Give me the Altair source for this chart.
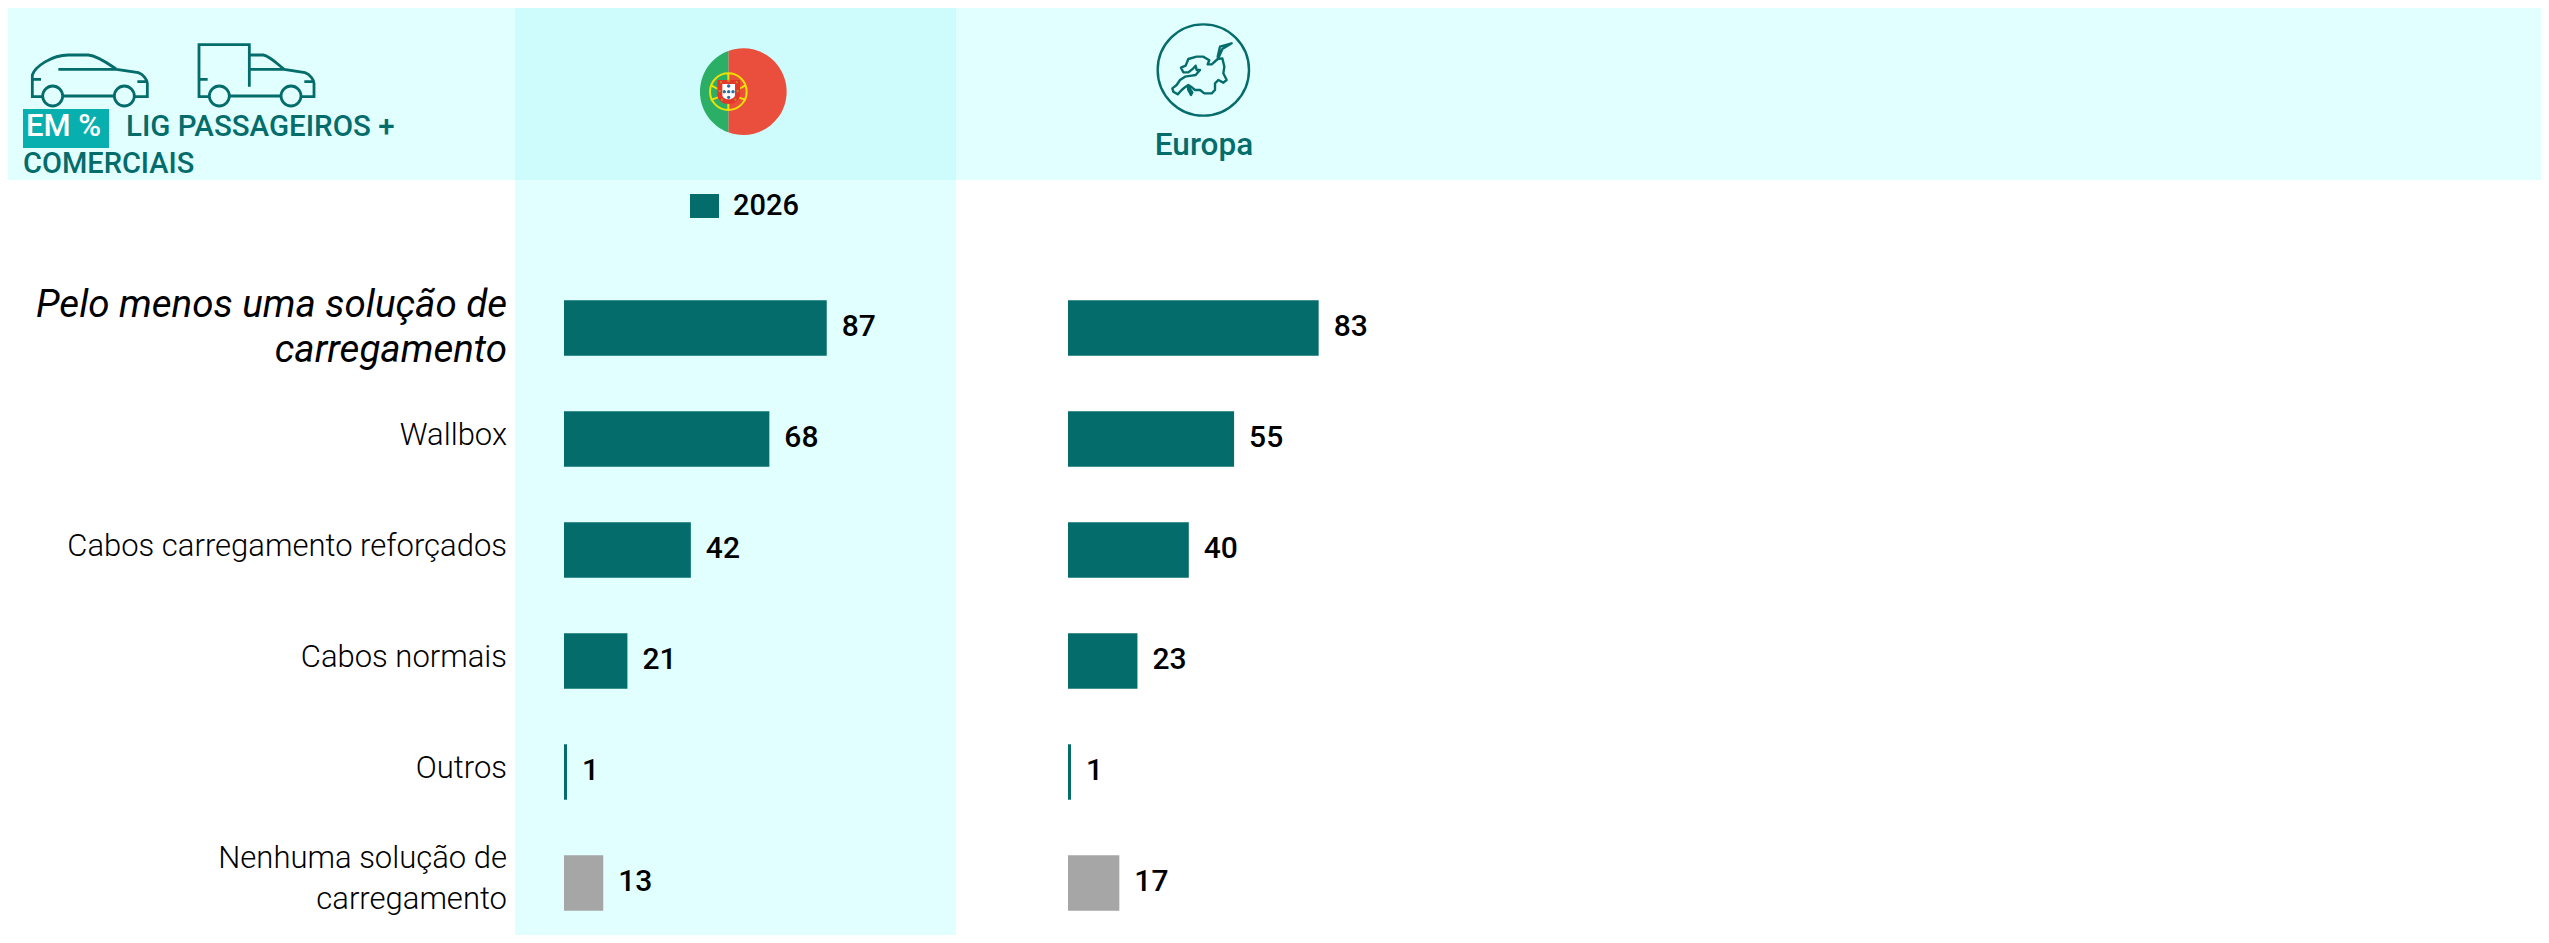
import altair as alt
import pandas as pd

categories = ["Pelo menos uma solução de\ncarregamento", "Wallbox", "Cabos carregamento reforçados",
              "Cabos normais", "Outros", "Nenhuma solução de\ncarregamento"]
portugal = [87, 68, 42, 21, 1, 13]
europa = [83, 55, 40, 23, 1, 17]
groups = ["sim", "sim", "sim", "sim", "sim", "nao"]
legend_year = ["2026"]

TEAL = "#056C6C"
GREY = "#A6A6A6"
BG = "#E1FFFF"
BG2 = "#CEFCFC"
FONT = "Roboto"
H = 927
HEAD = 172
PX = 3.02

pt_df = pd.DataFrame({"cat": categories, "v": portugal, "g": groups})
eu_df = pd.DataFrame({"cat": categories, "v": europa, "g": groups})
lab_df = pd.DataFrame({"cat": categories})

yenc = alt.Y("cat:N", sort=categories, axis=None,
             scale=alt.Scale(domain=categories, range=[264.5, 930.5], paddingInner=0.5, paddingOuter=0.25))


def band(w, fill, y0=0, y1=H):
    return alt.Chart(pd.DataFrame({"a": [0]})).mark_rect(fill=fill, stroke=None).encode(
        x=alt.value(0), x2=alt.value(w), y=alt.value(y0), y2=alt.value(y1))


def icon(path, ax, ay, s=1/3, **kw):
    return alt.Chart(pd.DataFrame({"a": [0]})).mark_point(shape=path, size=4*s*s, opacity=1, **kw).encode(
        x=alt.value(ax), y=alt.value(ay))


def txt(text, x, y, **kw):
    return alt.Chart(pd.DataFrame({"t": [text]})).mark_text(font=FONT, baseline="alphabetic", **kw).encode(
        x=alt.value(x), y=alt.value(y), text="t:N")


def bars(df, w, zero_px):
    xs = alt.Scale(domain=[-zero_px/PX, (w-zero_px)/PX], nice=False, zero=False)
    xenc = alt.X("v:Q", scale=xs, axis=None)
    b = alt.Chart(df).mark_bar(cornerRadius=0).encode(
        x=xenc, x2=alt.datum(0), y=yenc,
        color=alt.Color("g:N", scale=alt.Scale(domain=["sim", "nao"], range=[TEAL, GREY]), legend=None))
    t = alt.Chart(df).mark_text(font=FONT, fontSize=30, fontWeight=500, align="left", baseline="middle",
                                dx=15, dy=-1, color="#000000").encode(x=xenc, y=yenc, text="v:Q")
    return b, t


# ---------- icons (drawn in crop coordinates) ----------
car = ("M82 200 L52 200 L52 135 C60 110 110 75 160 75 L220 75 C250 78 285 105 305 118 L370 128 C385 133 397 150 397 160 "
       "L397 200 L360 200 M145 198 L298 198 M130 118 L305 118 M52 148 L78 148 M367 155 L397 155 "
       "M143 198 A30 30 0 1 1 83 198 A30 30 0 1 1 143 198 M358 198 A30 30 0 1 1 298 198 A30 30 0 1 1 358 198")
van = ("M582 200 L552 200 L552 44 L703 44 L703 170 M703 75 L745 75 C765 78 790 105 808 118 L870 128 C885 133 897 150 897 160 "
       "L897 200 L860 200 M645 198 L797 198 M703 118 L808 118 M552 148 L578 148 M868 155 L897 155 "
       "M643 198 A30 30 0 1 1 583 198 A30 30 0 1 1 643 198 M858 198 A30 30 0 1 1 798 198 A30 30 0 1 1 858 198")
red = "M115 33 A130 130 0 1 1 115 277 Z"
green = "M115 33 A130 130 0 0 0 115 277 Z"
ring = ("M170 155 A55 55 0 1 1 60 155 A55 55 0 1 1 170 155 M115 98 L115 212 M62 135 C85 150 140 170 168 180 "
        "M168 135 C145 150 90 170 62 180")
shield = "M82 120 L150 120 L150 165 C150 182 130 192 116 192 C100 192 82 182 82 165 Z"
white = "M97 132 L135 132 L135 165 C135 172 125 178 116 178 C106 178 97 172 97 165 Z"
dots = ("M121 138 A5 5 0 1 1 111 138 A5 5 0 1 1 121 138 M121 155 A5 5 0 1 1 111 155 A5 5 0 1 1 121 155 "
        "M121 172 A5 5 0 1 1 111 172 A5 5 0 1 1 121 172 M108 155 A5 5 0 1 1 98 155 A5 5 0 1 1 108 155 "
        "M134 155 A5 5 0 1 1 124 155 A5 5 0 1 1 134 155")
castles = ("M90 123 L96 123 L96 130 L90 130 Z M112 119 L120 119 L120 126 L112 126 Z M137 123 L143 123 L143 130 L137 130 Z "
           "M86 150 L92 150 L92 157 L86 157 Z M140 150 L146 150 L146 157 L140 157 Z M93 176 L99 176 L99 182 L93 182 Z "
           "M133 176 L139 176 L139 182 L133 182 Z")
globe = "M297 150 A137 137 0 1 1 23 150 A137 137 0 1 1 297 150"
europe = ("M48 98 L62 92 L70 72 L95 65 L115 65 L133 76 L128 88 L140 88 L158 72 L172 70 L178 95 L175 115 L185 135 L175 143 "
          "L160 135 L150 145 L150 165 L140 175 L118 175 L105 165 L90 165 L78 155 L70 150 L62 155 L50 165 L38 178 L25 170 "
          "L22 160 L35 150 L45 135 L60 125 L80 122 L92 120 L105 105 L95 105 L92 92 L85 100 L70 112 L55 112 Z "
          "M68 152 L82 172 L78 180 L70 165 Z M158 65 L165 35 L200 25 L172 42 L162 65 Z")

stroke_kw = dict(filled=False, stroke=TEAL, strokeWidth=2.8)

# ---------- left panel ----------
LW = 507
left_layers = [
    band(LW, BG, 0, HEAD),
    icon(car, 7, 22, **stroke_kw),
    icon(van, 7, 22, **stroke_kw),
    alt.Chart(pd.DataFrame({"a": [0]})).mark_rect(fill="#08AFAF", stroke=None).encode(
        x=alt.value(15), x2=alt.value(101), y=alt.value(101), y2=alt.value(140)),
    txt("EM %", 18, 128, fontSize=31, fontWeight=500, color="#FFFFFF", align="left"),
    txt("LIG PASSAGEIROS +", 118, 128, fontSize=29.5, fontWeight=500, color=TEAL, align="left"),
    txt("COMERCIAIS", 15, 165, fontSize=29, fontWeight=500, color=TEAL, align="left"),
]
label_first = alt.Chart(lab_df.iloc[:1]).mark_text(
    font=FONT, fontSize=38.5, fontWeight=400, fontStyle="italic", align="right", baseline="middle", lineBreak="\n",
    lineHeight=45, dy=-23, color="#000000").encode(x=alt.value(499), y=yenc, text="cat:N")
label_plain_single = alt.Chart(lab_df.iloc[1:5]).mark_text(
    font=FONT, fontSize=31, fontWeight=300, align="right", baseline="middle", dy=-3,
    color="#000000").encode(x=alt.value(499), y=yenc, text="cat:N")
label_last = alt.Chart(lab_df.iloc[5:]).mark_text(
    font=FONT, fontSize=31, fontWeight=300, align="right", baseline="middle", lineBreak="\n", lineHeight=41,
    dy=-24, color="#000000").encode(x=alt.value(499), y=yenc, text="cat:N")
left = alt.layer(*left_layers, label_plain_single, label_last, label_first).properties(width=LW, height=H)

# ---------- Portugal panel ----------
PW = 441
pb, pt = bars(pt_df, PW, 49)
FX, FY = 175, 32
pt_panel = alt.layer(
    band(PW, BG),
    band(PW, BG2, 0, HEAD),
    icon(red, FX, FY, fill="#EA4F3D", stroke=None, filled=True),
    icon(green, FX, FY, fill="#2BAE66", stroke=None, filled=True),
    icon(ring, FX, FY, filled=False, stroke="#F0E000", strokeWidth=2),
    icon(shield, FX, FY, fill="#E4372C", stroke=None, filled=True),
    icon(white, FX, FY, fill="#FFFFFF", stroke=None, filled=True),
    icon(dots, FX, FY, fill="#2D6E9E", stroke=None, filled=True),
    icon(castles, FX, FY, fill="#B8901E", stroke=None, filled=True),
    alt.Chart(pd.DataFrame({"a": [0]})).mark_rect(fill=TEAL, stroke=None).encode(
        x=alt.value(175), x2=alt.value(204), y=alt.value(186), y2=alt.value(210)),
    txt(legend_year[0], 218, 207, fontSize=29, fontWeight=500, color="#000000", align="left"),
    pb, pt,
).properties(width=PW, height=H)

# ---------- Europe panel ----------
EW = 1585
eb, et = bars(eu_df, EW, 112)
eu_panel = alt.layer(
    band(EW, BG, 0, HEAD),
    icon(globe, 194, 12, filled=False, stroke=TEAL, strokeWidth=2.4),
    icon(europe, 209, 27, filled=False, stroke=TEAL, strokeWidth=2.4, strokeJoin="round"),
    txt("Europa", 248, 147, fontSize=31.5, fontWeight=500, color=TEAL, align="center"),
    eb, et,
).properties(width=EW, height=H)

chart = alt.hconcat(left, pt_panel, eu_panel, spacing=0, padding=0, bounds="flush").configure_view(stroke=None)
chart.save("out.html", embed_options={"renderer": "svg", "actions": False})
